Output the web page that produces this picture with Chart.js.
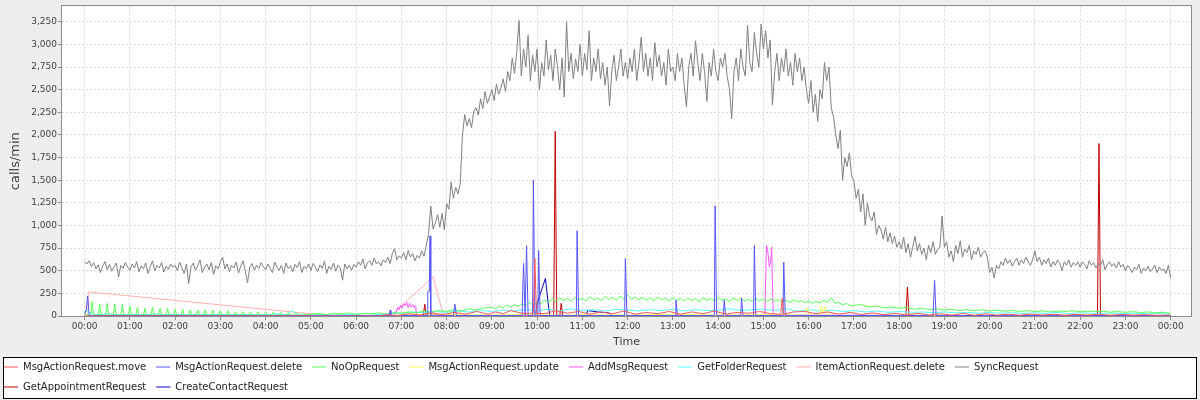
<!DOCTYPE html>
<html>
<head>
<meta charset="utf-8">
<script src="https://cdn.jsdelivr.net/npm/chart.js@4.4.1/dist/chart.umd.min.js"></script>
<style>
  html, body { margin: 0; padding: 0; background: #eeeeee; }
  #wrap { width: 1200px; height: 400px; }
</style>
</head>
<body>
<div id="wrap"><canvas id="chart" width="1200" height="400"></canvas></div>
<script>
// hour ticks on the time axis (minutes since midnight)
const tickMinutes = [0, 60, 120, 180, 240, 300, 360, 420, 480, 540, 600, 660, 720, 780, 840, 900, 960, 1020, 1080, 1140, 1200, 1260, 1320, 1380, 1440];
const tickLabels = ['00:00', '01:00', '02:00', '03:00', '04:00', '05:00', '06:00', '07:00', '08:00', '09:00', '10:00', '11:00', '12:00',
  '13:00', '14:00', '15:00', '16:00', '17:00', '18:00', '19:00', '20:00', '21:00', '22:00', '23:00', '00:00'];

const seriesNames = ['MsgActionRequest.move', 'MsgActionRequest.delete', 'NoOpRequest', 'MsgActionRequest.update', 'AddMsgRequest',
  'GetFolderRequest', 'ItemActionRequest.delete', 'SyncRequest', 'GetAppointmentRequest', 'CreateContactRequest'];
const seriesColors = ['#ff5555', '#5555ff', '#55ff55', '#ffff55', '#ff55ff', '#55ffff', '#ffafaf', '#808080', '#c00000', '#0000c0'];

// SyncRequest, one value every 3 minutes from 00:00 to 24:00 (one row per hour)
const syncStep = 3;
const syncValues = [
  600, 575, 610, 545, 590, 520, 565, 480, 555, 600, 510, 570, 495, 545, 585, 430, 560, 525, 590, 540,
  505, 575, 530, 600, 490, 555, 520, 585, 470, 545, 610, 500, 560, 530, 590, 485, 550, 515, 575, 540,
  560, 500, 595, 530, 470, 575, 360, 540, 585, 505, 555, 620, 480, 540, 575, 510, 590, 460, 555, 520,
  600, 650, 520, 575, 490, 560, 530, 595, 475, 550, 610, 500, 365, 540, 580, 505, 560, 525, 590, 545,
  510, 575, 530, 480, 595, 540, 505, 560, 470, 585, 525, 555, 490, 570, 535, 600, 480, 550, 520, 575,
  505, 580, 540, 490, 565, 525, 605, 470, 550, 515, 585, 495, 560, 530, 395, 575, 520, 560, 505, 570,
  540, 600, 560, 630, 520, 590, 610, 560, 640, 575, 600, 555, 620, 590, 650, 580, 690, 745, 620, 665,
  640, 700, 620, 725, 650, 690, 610, 670, 640, 720, 660, 780, 900, 1215, 960, 1030, 1120, 980, 1135, 950,
  1240, 1180, 1480, 1300, 1420, 1350, 1460, 2000, 2225, 2100, 2180, 2080, 2260, 2300, 2220, 2400, 2290, 2480, 2350, 2420,
  2500, 2380, 2560, 2450, 2520, 2620, 2480, 2700, 2600, 2850, 2680, 2920, 3265, 2650, 2950, 2750, 3100, 2600, 2880, 2700,
  2950, 2500, 2800, 2650, 3050, 2720, 2880, 2600, 2950, 2750, 2500, 2850, 2420, 3250, 2700, 2900, 2620, 2840, 2700, 3000,
  2650, 2900, 2720, 3150, 2600, 2850, 2700, 2950, 2620, 2800, 2550, 2750, 2320, 2700, 2880, 2600, 2750, 2950, 2650, 2800,
  2620, 2850, 2700, 2950, 2600, 2800, 3080, 2700, 2900, 2650, 2850, 2600, 3020, 2750, 2880, 2650, 2800, 2550, 2950, 2700,
  2750, 2600, 2900, 2700, 2850, 2550, 2310, 2750, 2900, 2650, 3040, 2800, 2600, 2900, 2700, 2370, 2800, 2650, 2950, 2700,
  2600, 2850, 2750, 2900, 2650, 2500, 2180, 2700, 2850, 2600, 2950, 2750, 2650, 3210, 2800, 2700, 3130, 2900, 2750, 3225,
  2950, 3150, 2850, 3050, 2330, 2700, 2900, 2600, 2850, 2700, 2950, 2650, 2800, 2550, 2900, 2700, 2850, 2600, 2750, 2500,
  2350, 2600, 2250, 2450, 2150, 2500, 2400, 2800, 2600, 2750, 2300, 2200, 2000, 1850, 2050, 1500, 1750, 1650, 1800, 1550,
  1490, 1300, 1400, 1150, 1350, 1000, 1250, 1100, 1050, 1150, 900, 1000, 950, 850, 980, 820, 920, 800, 880, 760,
  820, 740, 870, 700, 800, 650, 760, 880, 720, 800, 680, 750, 620, 780, 700, 820, 680, 740, 760, 1105,
  760, 820, 650, 720, 600, 780, 690, 830, 650, 740, 700, 780, 620, 720, 680, 760, 650, 700, 720, 650,
  480, 540, 420, 560, 520, 600, 560, 640, 580, 620, 550, 600, 640, 560, 620, 580, 650, 600, 560, 620,
  720, 600, 650, 560, 620, 580, 640, 540, 600, 560, 620, 580, 500, 600, 560, 620, 540, 590, 560, 600,
  540, 600, 570, 520, 610, 560, 590, 530, 580, 560, 620, 510, 570, 600, 550, 580, 530, 600, 540, 570,
  500, 560, 530, 480, 540, 510, 570, 470, 530, 500, 550, 490, 520, 560, 480, 540, 500, 520, 470, 560,
  420
];

// the other series as [minute, calls/min] pairs
const moveData = [[0, 0], [390, 0], [400, 15], [415, 5], [430, 25], [445, 10], [460, 35], [475, 15], [490, 40], [505, 20],
  [520, 50], [535, 20], [545, 45], [555, 25], [565, 60], [580, 30], [595, 30], [597, 636], [599, 30], [610, 25], [625, 60],
  [640, 30], [655, 50], [670, 20], [685, 45], [700, 25], [715, 55], [730, 20], [745, 40], [760, 25], [775, 50], [790, 20],
  [805, 45], [820, 25], [835, 55], [850, 20], [865, 40], [880, 30], [895, 50], [910, 25], [923, 20], [925, 195], [927, 20],
  [940, 45], [955, 50], [970, 25], [985, 45], [1000, 20], [1015, 40], [1030, 15], [1045, 35], [1060, 15], [1075, 30],
  [1090, 10], [1105, 30], [1120, 10], [1135, 25], [1150, 10], [1165, 28], [1180, 8], [1195, 25], [1210, 10], [1225, 20],
  [1240, 8], [1255, 22], [1270, 10], [1285, 20], [1300, 8], [1315, 18], [1330, 10], [1345, 20], [1360, 8], [1375, 18],
  [1390, 10], [1405, 15], [1420, 8], [1440, 10]];

const deleteData = [[0, 20], [2, 60], [4, 220], [6, 5], [404, 5], [405, 65], [406, 5], [454, 5], [455, 265], [457, 270],
  [458, 885], [459, 10], [489, 5], [491, 130], [493, 5], [580, 5], [582, 580], [584, 5], [585, 5], [586, 778], [588, 5],
  [594, 5], [595, 1502], [597, 5], [601, 5], [602, 723], [604, 5], [652, 5], [653, 943], [655, 5], [716, 5], [717, 635],
  [719, 5], [783, 5], [784, 175], [786, 5], [835, 5], [836, 1217], [838, 5], [847, 5], [848, 175], [850, 5], [870, 5],
  [871, 200], [873, 5], [887, 5], [888, 778], [890, 5], [926, 5], [927, 595], [929, 5], [1125, 5], [1127, 395], [1129, 5],
  [1440, 5]];

const noOpData = [[0, 40], [2, 10], [8, 15], [10, 157], [12, 10], [18, 12], [20, 132], [22, 8], [28, 14], [30, 140], [32, 10],
  [38, 12], [40, 132], [42, 9], [48, 15], [50, 128], [52, 10], [58, 12], [60, 110], [62, 8], [68, 14], [70, 95], [72, 10],
  [78, 12], [80, 84], [82, 8], [88, 15], [90, 95], [92, 10], [98, 12], [100, 84], [102, 9], [108, 14], [110, 84], [112, 10],
  [118, 12], [120, 73], [122, 8], [128, 15], [130, 73], [132, 10], [138, 12], [140, 66], [142, 9], [148, 14], [150, 66],
  [152, 10], [158, 12], [160, 66], [162, 8], [168, 15], [170, 66], [172, 10], [178, 12], [180, 58], [182, 9], [188, 14],
  [190, 58], [192, 10], [198, 12], [200, 47], [202, 8], [208, 15], [210, 47], [212, 10], [218, 12], [220, 47], [222, 9],
  [228, 14], [230, 45], [232, 10], [238, 12], [240, 42], [242, 8], [248, 15], [250, 40], [252, 10], [258, 12], [260, 38],
  [262, 9], [268, 14], [270, 36], [272, 10], [278, 12], [280, 34], [282, 8], [288, 15], [290, 32], [292, 10],
  [300, 20], [310, 28], [320, 15], [330, 30], [340, 22], [350, 35], [360, 18], [370, 30], [380, 25], [390, 35], [400, 20],
  [410, 38], [420, 30], [430, 45], [440, 35], [450, 55], [460, 40], [470, 60], [480, 50], [490, 70], [500, 55], [510, 80],
  [520, 65], [530, 90],
  [540, 95], [545, 80], [550, 110], [555, 90], [560, 120], [565, 100], [570, 125], [575, 105], [580, 135], [585, 115], [590, 150], [595, 120],
  [600, 160], [605, 135], [610, 175], [615, 150], [620, 190], [625, 165], [630, 200], [635, 170], [640, 195], [645, 160], [650, 205], [655, 175],
  [660, 195], [665, 165], [670, 210], [675, 180], [680, 200], [685, 170], [690, 215], [695, 185], [700, 205], [705, 175], [710, 220], [715, 190],
  [720, 230], [725, 185], [730, 210], [735, 180], [740, 205], [745, 175], [750, 200], [755, 170], [760, 210], [765, 180], [770, 195], [775, 165],
  [780, 205], [785, 170], [790, 195], [795, 165], [800, 200], [805, 170], [810, 190], [815, 160], [820, 200], [825, 175], [830, 195], [835, 165],
  [840, 205], [845, 175], [850, 190], [855, 160], [860, 200], [865, 170], [870, 195], [875, 165], [880, 185], [885, 160], [890, 195], [895, 170],
  [900, 185], [905, 160], [910, 190], [915, 165], [920, 180], [925, 155], [930, 175], [935, 150], [940, 180], [945, 155], [950, 170], [955, 145],
  [960, 165], [965, 140], [970, 160], [975, 145], [980, 175], [985, 150], [990, 200], [995, 140], [1000, 150], [1005, 120], [1010, 140], [1015, 115],
  [1030, 125], [1040, 100], [1050, 110], [1060, 90], [1070, 100], [1080, 85], [1090, 95], [1100, 75], [1110, 85], [1120, 70],
  [1130, 80], [1140, 65], [1150, 75], [1160, 60], [1170, 70], [1180, 58], [1190, 68], [1200, 55], [1210, 65], [1220, 52],
  [1230, 62], [1240, 50], [1250, 60], [1260, 48], [1270, 58], [1280, 45], [1290, 55], [1300, 50], [1310, 58], [1320, 45],
  [1330, 55], [1340, 48], [1350, 52], [1360, 42], [1370, 50], [1380, 40], [1390, 48], [1400, 38], [1410, 45], [1420, 35],
  [1430, 42], [1440, 30]];

const updateData = [[0, 0], [400, 0], [420, 10], [480, 15], [540, 10], [600, 20], [630, 5], [660, 15], [720, 10], [780, 20],
  [840, 10], [900, 15], [955, 10], [958, 90], [961, 10], [975, 10], [977, 110], [979, 30], [982, 100], [985, 10], [1020, 5],
  [1100, 10], [1200, 5], [1300, 10], [1440, 5]];

const addMsgData = [[0, 0], [410, 0], [413, 40], [415, 95], [417, 70], [419, 120], [421, 85], [423, 135], [425, 110], [427, 150],
  [429, 95], [431, 140], [433, 100], [435, 125], [437, 90], [439, 115], [440, 0], [900, 0], [902, 10], [904, 780], [906, 700],
  [908, 540], [910, 640], [911, 760], [913, 10], [1440, 0]];

const folderData = [[0, 60], [15, 15], [30, 25], [45, 10], [60, 20], [75, 12], [90, 25], [105, 15], [120, 18], [135, 10],
  [150, 22], [165, 14], [180, 20], [195, 12], [210, 18], [225, 10], [240, 15], [255, 25], [270, 12], [275, 60], [285, 10],
  [300, 12], [315, 18], [330, 10], [345, 15], [360, 20], [375, 30], [390, 15], [405, 25], [420, 30], [435, 45], [450, 35],
  [465, 50], [480, 40], [495, 55], [510, 45], [525, 60], [540, 50], [555, 65], [570, 55], [585, 70], [600, 60], [615, 75],
  [630, 55], [645, 80], [660, 60], [675, 70], [690, 55], [705, 75], [720, 65], [735, 55], [750, 70], [765, 60], [780, 75],
  [795, 55], [810, 70], [825, 60], [840, 65], [855, 80], [870, 60], [885, 70], [900, 75], [915, 60], [930, 80], [945, 55],
  [960, 70], [975, 55], [990, 65], [1005, 50], [1020, 60], [1035, 45], [1050, 55], [1065, 40], [1080, 50], [1095, 40],
  [1110, 45], [1125, 35], [1140, 45], [1155, 35], [1170, 40], [1185, 30], [1200, 40], [1215, 30], [1230, 38], [1245, 28],
  [1260, 35], [1275, 28], [1290, 40], [1305, 25], [1320, 35], [1335, 30], [1350, 28], [1365, 35], [1380, 25], [1395, 32],
  [1410, 22], [1425, 28], [1440, 20]];

const itemDeleteData = [[0, 0], [4, 0], [5, 266], [330, 0], [405, 0], [462, 430], [476, 0], [1440, 0]];

const apptData = [[0, 0], [449, 0], [451, 130], [453, 0], [622, 0], [624, 2040], [626, 0], [630, 0], [632, 140], [634, 0],
  [1089, 0], [1091, 320], [1093, 0], [1343, 0], [1345, 1905], [1347, 0], [1440, 0]];

const contactData = [[0, 0], [598, 0], [600, 140], [611, 416], [615, 110], [617, 0], [665, 0], [667, 60], [680, 45],
  [695, 35], [700, 0], [1440, 0]];

const syncData = syncValues.map((v, i) => [i * syncStep, v]);
const allData = [moveData, deleteData, noOpData, updateData, addMsgData, folderData, itemDeleteData, syncData, apptData, contactData];

Chart.defaults.font.family = 'DejaVu Sans';

// grey page, white plot, framed legend, plot outline
const framePlugin = {
  id: 'frame',
  afterLayout(chart) {
    chart.legend.left -= 6;
    chart.legend.right -= 6;
  },
  beforeDraw(chart) {
    const { ctx, chartArea: a, legend } = chart;
    ctx.save();
    ctx.fillStyle = '#eeeeee';
    ctx.fillRect(0, 0, chart.width, chart.height);
    ctx.fillStyle = '#ffffff';
    ctx.fillRect(a.left, a.top, a.right - a.left, a.bottom - a.top);
    const top = Math.round(legend.top) + 5.5;
    const h = Math.round(legend.bottom) - 1.5 - top;
    ctx.fillRect(3.5, top, chart.width - 7, h);
    ctx.strokeStyle = '#000000';
    ctx.lineWidth = 1;
    ctx.strokeRect(3.5, top, chart.width - 7, h);
    ctx.restore();
  },
  afterDraw(chart) {
    const { ctx, chartArea: a } = chart;
    ctx.save();
    ctx.strokeStyle = '#8c8c8c';
    ctx.lineWidth = 1;
    ctx.strokeRect(Math.round(a.left) - 0.5, Math.round(a.top) - 0.5, Math.round(a.right - a.left) + 1, Math.round(a.bottom - a.top) + 1);
    ctx.restore();
  }
};

const axisText = '#404040';

new Chart(document.getElementById('chart'), {
  type: 'line',
  data: {
    datasets: seriesNames.map((name, i) => ({
      label: name,
      data: allData[i],
      borderColor: seriesColors[i],
      backgroundColor: seriesColors[i],
      borderWidth: 1,
      pointRadius: 0,
      tension: 0,
      fill: false
    }))
  },
  options: {
    responsive: false,
    animation: false,
    events: [],
    layout: { padding: { top: 4, right: 9, left: 0, bottom: 0 } },
    scales: {
      x: {
        type: 'linear',
        min: -30,
        max: 1467,
        afterBuildTicks: s => { s.ticks = tickMinutes.map(v => ({ value: v })); },
        afterFit: s => { s.height = 36; },
        ticks: {
          autoSkip: false,
          maxRotation: 0,
          padding: 1,
          color: axisText,
          font: { size: 9 },
          callback: (v, i) => tickLabels[i]
        },
        grid: { color: '#d9d9d9', tickColor: '#8c8c8c', tickLength: 4, tickBorderDash: [] },
        border: { display: false, dash: [2, 2] },
        title: { display: true, text: 'Time', color: axisText, font: { size: 11 }, padding: { top: 0, bottom: 3 } }
      },
      y: {
        min: 0,
        max: 3420,
        afterFit: s => { s.width = 62; },
        ticks: {
          stepSize: 250,
          includeBounds: false,
          padding: 1,
          color: axisText,
          font: { size: 9 },
          callback: v => v.toLocaleString('en-US')
        },
        grid: { color: '#d9d9d9', tickColor: '#8c8c8c', tickLength: 4, tickBorderDash: [] },
        border: { display: false, dash: [2, 2] },
        title: { display: true, text: 'calls/min', color: axisText, font: { size: 13 }, padding: { top: 8, bottom: 0 } }
      }
    },
    plugins: {
      tooltip: { enabled: false },
      legend: {
        position: 'bottom',
        align: 'start',
        maxHeight: 48,
        labels: {
          usePointStyle: true,
          pointStyle: 'line',
          pointStyleWidth: 14,
          padding: 10,
          color: '#222222',
          font: { size: 10 }
        }
      }
    }
  },
  plugins: [framePlugin]
});
</script>
</body>
</html>
